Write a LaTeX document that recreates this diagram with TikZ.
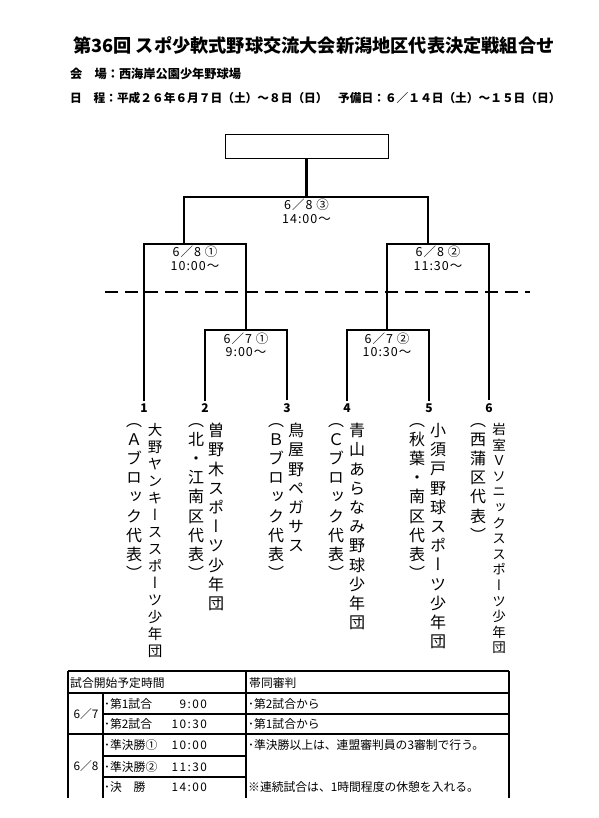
\documentclass[tikz,border=0pt]{standalone}
\usepackage{fontspec}
\setmainfont{Noto Sans CJK JP}
\newfontfamily\vjp[RawFeature=+vert]{Noto Sans CJK JP}
\newcommand\fsz[2]{\fontsize{#1}{#2}\selectfont}
\tikzset{
  bline/.style={line width=2.4pt, line join=miter},
  dashline/.style={line width=2pt, dash pattern=on 13pt off 7pt},
  tline/.style={line width=1.1pt},
  lbl/.style={inner sep=0, align=center, font=\fsz{12.5}{13.5}\addfontfeature{LetterSpace=8}},
  num/.style={inner sep=0, outer sep=3pt, font=\bfseries\fsz{12}{14}},
  vname/.style={anchor=north, inner sep=0, align=center, font=\vjp\fsz{16}{19.2}},
  ttxt/.style={inner sep=0, font=\fsz{11.8}{13}},
  ttime/.style={inner sep=0, anchor=east, font=\fsz{11.8}{13}\addfontfeature{LetterSpace=12}},
}
\begin{document}
\begin{tikzpicture}[x=1pt, y=-1pt]
\useasboundingbox (0,0) rectangle (598,818);
\fill[white] (0,0) rectangle (598,818);
% header
\node[anchor=west, inner sep=0, font=\bfseries\fsz{18.2}{20}] (title) at (73,45) {第36回 スポ少軟式野球交流大会新潟地区代表決定戦組合せ};
\node[anchor=west, inner sep=0, font=\bfseries\fsz{12.2}{14}] (venue) at (70,74) {会　場：西海岸公園少年野球場};
\node[anchor=west, inner sep=0, font=\bfseries\fsz{11.7}{13}] (dates) at (70,98) {日　程：平成２６年６月７日（土）～８日（日）};
\node[anchor=west, inner sep=0, font=\bfseries\fsz{11.7}{13}] (spare) at (338,98) {予備日：６／１４日（土）～１５日（日）};
% bracket
\node[draw, line width=0.9pt, minimum width=163pt, minimum height=24pt, inner sep=0] (champ) at (306.5,146) {};
\coordinate (F) at (306.5,197);
\coordinate (S1) at (184,244);
\coordinate (S2) at (428,244);
\coordinate (Q1) at (246,330);
\coordinate (Q2) at (387,330);
\node[num] (t1) at (144,408) {1};
\node[num] (t2) at (205,408) {2};
\node[num] (t3) at (287,408) {3};
\node[num] (t4) at (347,408) {4};
\node[num] (t5) at (429,408) {5};
\node[num] (t6) at (489,408) {6};
\draw[bline] (champ.south) -- (F);
\draw[bline] (S1) |- (F) -| (S2);
\draw[bline] (t1) |- (S1) -| (Q1);
\draw[bline] (t2) |- (Q1) -| (t3);
\draw[bline] (t4) |- (Q2) -| (t5);
\draw[bline] (Q2) |- (S2) -| (t6);
\coordinate (dl) at (105,292);
\coordinate (dr) at (530,292);
\draw[dashline] (dl) -- (dr);
% match labels
\node[lbl] (mF) at (306.5,211.5) {6／8 ③\\14:00～};
\node[lbl] (mS1) at (195,258.5) {6／8 ①\\10:00～};
\node[lbl] (mS2) at (438,258.5) {6／8 ②\\11:30～};
\node[lbl] (mQ1) at (246,345) {6／7 ①\\9:00～};
\node[lbl] (mQ2) at (387,345) {6／7 ②\\10:30～};
% team names (vertical)
\node[vname, font=\vjp\fsz{14.5}{17}] (n1) at (155,423) {大\\野\\ヤ\\ン\\キ\\ー\\ス\\ス\\ポ\\ー\\ツ\\少\\年\\団};
\node[vname] (b1) at (134,423) {（\\Ａ\\ブ\\ロ\\ッ\\ク\\代\\表\\）};
\node[vname] (n2) at (216,423) {曽\\野\\木\\ス\\ポ\\ー\\ツ\\少\\年\\団};
\node[vname] (b2) at (196,423) {（\\北\\・\\江\\南\\区\\代\\表\\）};
\node[vname] (n3) at (296,423) {鳥\\屋\\野\\ペ\\ガ\\サ\\ス};
\node[vname] (b3) at (276,423) {（\\Ｂ\\ブ\\ロ\\ッ\\ク\\代\\表\\）};
\node[vname] (n4) at (357,423) {青\\山\\あ\\ら\\な\\み\\野\\球\\少\\年\\団};
\node[vname] (b4) at (336,423) {（\\Ｃ\\ブ\\ロ\\ッ\\ク\\代\\表\\）};
\node[vname] (n5) at (438,423) {小\\須\\戸\\野\\球\\ス\\ポ\\ー\\ツ\\少\\年\\団};
\node[vname] (b5) at (417,423) {（\\秋\\葉\\・\\南\\区\\代\\表\\）};
\node[vname, font=\vjp\fsz{13.5}{15.6}] (n6) at (499,423) {岩\\室\\Ｖ\\ソ\\ニ\\ッ\\ク\\ス\\ス\\ポ\\ー\\ツ\\少\\年\\団};
\node[vname] (b6) at (478,423) {（\\西\\蒲\\区\\代\\表\\）};
% table
\draw[tline] (68,671) -- (509,671);
\draw[tline] (68,693) -- (509,693);
\draw[tline] (103,714) -- (509,714);
\draw[tline] (68,734) -- (509,734);
\draw[tline] (103,756) -- (246,756);
\draw[tline] (103,777) -- (246,777);
\draw[tline] (68,671) -- (68,798);
\draw[tline] (103,693) -- (103,798);
\draw[tline] (246,671) -- (246,798);
\draw[tline] (509,671) -- (509,798);
\node[ttxt, anchor=west] (h1) at (70,683) {試合開始予定時間};
\node[ttxt, anchor=west] (h2) at (249,683) {帯同審判};
\node[ttxt] (d1) at (86,714) {6／7};
\node[ttxt] (d2) at (86,766) {6／8};
\node[ttxt, anchor=west] (r1a) at (104,704) {･第1試合};
\node[ttime] (r1b) at (207,704) {9:00};
\node[ttxt, anchor=west] (r2a) at (104,724) {･第2試合};
\node[ttime] (r2b) at (207,724) {10:30};
\node[ttxt, anchor=west] (r3a) at (104,745) {･準決勝①};
\node[ttime] (r3b) at (207,745) {10:00};
\node[ttxt, anchor=west] (r4a) at (104,767) {･準決勝②};
\node[ttime] (r4b) at (207,767) {11:30};
\node[ttxt, anchor=west] (r5a) at (104,787) {･決　勝};
\node[ttime] (r5b) at (207,787) {14:00};
\node[ttxt, anchor=west] (c1) at (248,704) {･第2試合から};
\node[ttxt, anchor=west] (c2) at (248,724) {･第1試合から};
\node[ttxt, anchor=west] (c3) at (248,745) {･準決勝以上は、連盟審判員の3審制で行う。};
\node[ttxt, anchor=west] (c4) at (248,787) {※連続試合は、1時間程度の休憩を入れる。};
\end{tikzpicture}
\end{document}
